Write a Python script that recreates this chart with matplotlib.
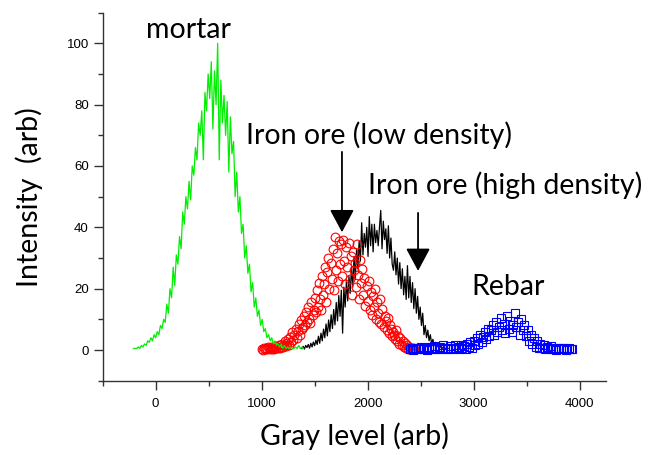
import numpy as np
import matplotlib
matplotlib.use("Agg")
from matplotlib import pyplot as plt
from matplotlib.ticker import MultipleLocator

# mortar histogram (green line), gray level step 15 starting at -210
mortar_start = -210
mortar_step = 15
mortar_y = [0.5, 0.5, 0.5, 1.0, 0.5, 1.5, 1.0, 2.0, 1.5, 3.0, 2.5, 4.0, 3.0, 5.0, 4.0, 6.0,
            5.0, 8.0, 7.0, 10.0, 9.0, 15.0, 12.0, 20.0, 17.0, 27.0, 21.0, 31.0, 28.0, 37.0,
            33.0, 45.0, 41.0, 50.0, 46.0, 55.0, 49.0, 60.0, 57.0, 66.0, 62.0, 74.0, 70.0,
            78.0, 62.0, 84.0, 78.0, 90.0, 82.0, 94.0, 72.0, 91.0, 80.0, 100.0, 62.0, 88.0,
            74.0, 83.0, 70.0, 81.0, 58.0, 76.0, 64.0, 68.0, 50.0, 58.0, 45.0, 50.0, 38.0,
            41.0, 30.0, 34.0, 25.0, 28.0, 19.0, 22.0, 14.0, 17.0, 11.0, 13.0, 8.0, 10.0,
            6.0, 7.0, 4.0, 5.0, 3.0, 4.0, 2.0, 3.0, 1.5, 2.0, 1.0, 2.0, 0.5, 1.5, 0.5, 1.0,
            0.5, 1.0, 0.5, 0.5, 1.0, 0.5, 1.5, 0.5, 1.0, 0.5]

# iron ore high density (black line), step 12 starting at 1380
high_start = 1380
high_step = 12
high_y = [0.5, 1.2, 0.3, 1.5, 0.8, 1.8, 0.6, 2.2, 1.0, 2.6, 1.4, 3.2,
          1.8, 4.5, 2.2, 5.5, 3.0, 6.8, 4.0, 8.5, 4.6, 9.8, 6.0, 11.5,
          7.0, 13.2, 8.2, 15.5, 9.5, 17.8, 11.0, 19.5, 5.5, 20.5, 14.0, 22.5,
          16.0, 24.0, 18.5, 27.0, 20.5, 30.5, 23.0, 33.0, 26.5, 35.5, 29.0, 41.5,
          31.0, 38.0, 33.5, 40.0, 30.5, 43.5, 34.0, 41.0, 32.0, 41.0, 35.0, 39.0,
          34.0, 40.0, 45.5, 33.0, 42.0, 36.0, 39.5, 31.5, 40.5, 30.0, 36.5, 28.0,
          26.0, 32.0, 24.5, 30.0, 21.5, 28.5, 20.0, 26.5, 18.0, 24.0, 16.5, 27.5,
          17.0, 24.0, 15.5, 22.0, 13.5, 20.0, 12.0, 17.5, 10.0, 14.0, 8.0, 12.0,
          5.0, 8.0, 4.0, 6.5, 3.0, 5.0, 2.0, 3.5, 1.5, 2.5, 1.0, 1.5,
          0.8, 1.2, 0.5, 0.8, 0.3, 0.6, 0.3, 0.5]

# iron ore low density (red circles), step 10 starting at 1000
low_start = 1000
low_step = 10
low_y = [0.4, 0.1, 0.8, 0.3, 0.5, 0.2, 1.0, 0.6, 0.2, 0.9, 0.4, 0.7, 0.3, 1.2, 0.5, 0.8,
         1.5, 0.6, 1.1, 2.0, 0.9, 1.6, 2.8, 1.3, 2.2,
         3.5, 1.8, 4.2, 2.6, 5.8, 3.4, 4.8, 7.0, 3.9, 6.2, 8.5, 5.0, 9.8, 6.8, 7.5, 11.0,
         8.2, 12.5, 9.0, 14.0, 10.2, 8.8, 15.5, 11.5, 13.0,
         17.0, 12.5, 19.5, 14.0, 22.0, 16.5, 13.0, 24.0, 18.0, 21.5, 27.0, 15.5, 25.5,
         30.0, 20.0, 28.5, 23.0, 33.0, 19.5, 37.0, 26.0, 31.5, 22.5, 35.5, 28.0,
         34.5, 24.0, 36.0, 29.0, 21.5, 33.5, 27.0, 35.0, 23.0, 30.5, 18.0, 32.0, 26.0,
         28.5, 20.5, 34.5, 24.5, 16.5, 29.5, 22.0, 26.5, 18.0, 23.5, 14.5, 21.0,
         16.0, 22.5, 13.0, 19.0, 11.5, 17.5, 14.0, 20.0, 10.0, 15.5, 12.0, 9.0, 16.5,
         8.5, 13.5, 7.5, 11.0, 9.5, 6.5, 10.5, 5.5, 8.0, 7.0, 4.5, 6.0,
         5.0, 3.5, 6.5, 2.8, 4.5, 2.0, 3.8, 1.5, 2.8, 1.0, 2.2, 0.6, 1.5, 0.4, 1.0, 0.3,
         0.7, 0.2, 0.5, 0.3]

# rebar (blue squares), step 15 starting at 2400
rebar_start = 2400
rebar_step = 15
rebar_y = [0.2, 0.5, 0.1, 0.8, 0.3, 0.6, 0.2, 1.0, 0.4, 0.3, 0.7, 0.1, 0.9, 0.5, 0.2, 1.2,
           0.4, 0.6, 0.3, 1.0, 0.5, 1.5, 0.2, 0.8, 0.4, 1.3, 0.6, 0.3, 1.6, 0.5, 1.0, 0.2,
           1.8, 0.7, 1.2, 0.4, 2.0,
           1.0, 2.5, 0.8, 3.0, 1.5, 3.8, 2.0, 5.0, 2.5, 4.2, 6.0, 3.5, 7.0, 4.5, 6.5, 8.0,
           5.0, 9.0, 6.0, 7.5, 10.5, 6.5, 8.5, 5.5, 11.0, 7.0, 9.5, 6.0, 8.0, 12.0, 7.5,
           9.0, 5.0, 10.0, 6.5, 8.0, 4.5, 6.5, 3.0, 5.0, 2.0, 4.0, 1.0, 3.0, 0.8, 2.0, 0.5,
           1.5,
           0.3, 1.0, 0.5, 0.2, 1.2, 0.4, 0.6, 0.1, 0.8, 0.3, 0.5, 0.2, 0.7, 0.1, 0.4, 0.6,
           0.2, 0.3]

x_ticks = [0, 1000, 2000, 3000, 4000]
y_ticks = [0, 20, 40, 60, 80, 100]


def main():
    label_font = "Lato"
    tick_font = ["Liberation Sans", "DejaVu Sans"]
    big = 20.5

    mortar_x = mortar_start + mortar_step * np.arange(len(mortar_y)) #bin positions
    high_x = high_start + high_step * np.arange(len(high_y))
    low_x = low_start + low_step * np.arange(len(low_y))
    rebar_x = rebar_start + rebar_step * np.arange(len(rebar_y))

    fig = plt.figure(figsize=(6.52, 4.55), dpi=100)
    ax = fig.add_axes([0.1575, 0.1633, 0.772, 0.809])

    ax.plot(mortar_x, mortar_y, "-", color="#00ee00", lw=0.9, zorder=3)
    ax.plot(high_x, high_y, "-", color="black", lw=0.9, zorder=2)
    ax.plot(low_x, low_y, "o", mfc="none", mec="red", ms=6.3, mew=0.8, zorder=2.5)
    ax.plot(rebar_x, rebar_y, "s", mfc="none", mec="blue", ms=5.8, mew=0.8, zorder=4)

    ax.set_xlim(-500, 4250)
    ax.set_ylim(-10, 110)
    ax.set_xticks(x_ticks)
    ax.set_yticks(y_ticks)
    ax.xaxis.set_minor_locator(MultipleLocator(500))
    ax.yaxis.set_minor_locator(MultipleLocator(10))
    ax.tick_params(which="major", direction="out", length=6.5, width=1.0, color="#333333", labelsize=9.5)
    ax.tick_params(axis="x", which="major", pad=6)
    ax.tick_params(which="minor", direction="out", length=3.5, width=1.0, color="#333333")
    for lab in ax.get_xticklabels() + ax.get_yticklabels():
        lab.set_family(tick_font)

    for s in ["top", "right"]:
        ax.spines[s].set_visible(False)
    for s in ["left", "bottom"]:
        ax.spines[s].set_color("#333333")
        ax.spines[s].set_linewidth(1.0)

    ax.set_xlabel("Gray level (arb)", family=label_font, fontsize=big, labelpad=9)
    ax.set_ylabel("Intensity  (arb)", family=label_font, fontsize=big, labelpad=17)

    ax.text(310, 101.6, "mortar", family=label_font, fontsize=big, ha="center", va="baseline")
    ax.text(2108, 67.3, "Iron ore (low density)", family=label_font, fontsize=big, ha="center", va="baseline")
    ax.text(3300, 51.0, "Iron ore (high density)", family=label_font, fontsize=big, ha="center", va="baseline")
    ax.text(3328, 17.8, "Rebar", family=label_font, fontsize=big, ha="center", va="baseline")

    arrow = dict(arrowstyle="-|>,head_length=1.4,head_width=0.75", color="black", lw=1.3, mutation_scale=10, shrinkA=0, shrinkB=0)
    ax.annotate("", xy=(1758, 38.4), xytext=(1758, 64.6), arrowprops=arrow)
    ax.annotate("", xy=(2476, 25.8), xytext=(2476, 44.7), arrowprops=arrow)

    fig.savefig("out.png", dpi=100)


if __name__ == "__main__":
    main()
